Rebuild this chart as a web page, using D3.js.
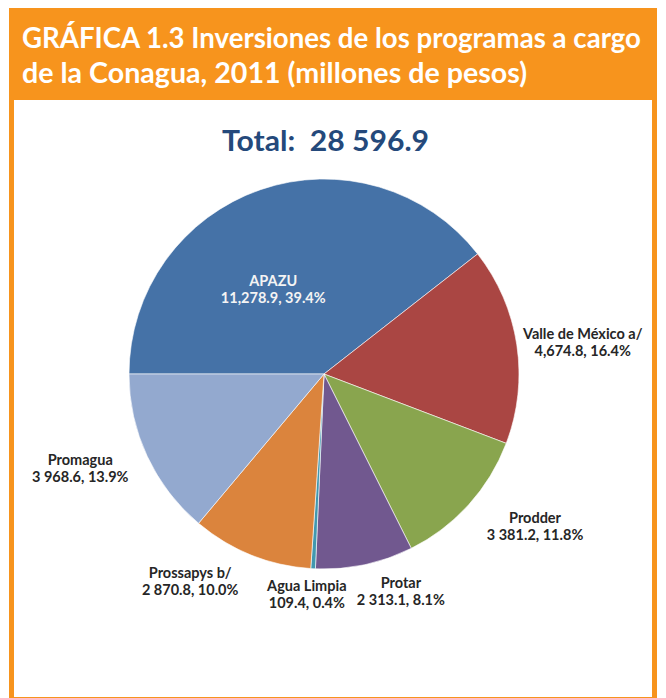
<!DOCTYPE html>
<html>
<head>
<meta charset="utf-8">
<script src="https://cdn.jsdelivr.net/npm/d3@7"></script>
<style>
  html, body { margin: 0; padding: 0; background: #fff; }
  text { font-family: Lato, "Open Sans", sans-serif; }
</style>
</head>
<body>
<div id="chart"></div>
<script>
document.addEventListener("DOMContentLoaded", function() {
    var programas = ["APAZU", "Valle de México a/", "Prodder", "Protar", "Agua Limpia", "Prossapys b/", "Promagua"];
    var inversiones = [11278.9, 4674.8, 3381.2, 2313.1, 109.4, 2870.8, 3968.6];
    var etiquetas = ["11,278.9, 39.4%", "4,674.8, 16.4%", "3 381.2, 11.8%", "2 313.1, 8.1%",
                     "109.4, 0.4%", "2 870.8, 10.0%", "3 968.6, 13.9%"];
    var colores = ["#4572a7", "#aa4643", "#89a54e", "#71588f", "#4198af", "#db843d", "#93a9cf"];
    var total = "28 596.9";

    // where each label sits, relative to the arc centroid
    var nudge = [[-19, 8], [8, 7], [23, -17], [24, -30], [-3, -32], [-39, -27], [-14, -12]];

    var W = 666, H = 698;
    var orange = "#f7941d";
    var cx = 324, cy = 374, r = 195;

    var svg = d3.select("#chart").append("svg")
        .attr("width", W)
        .attr("height", H);

    // frame
    svg.append("rect").attr("x", 9).attr("y", 8).attr("width", 648).attr("height", 692)
        .style("fill", orange);
    svg.append("rect").attr("x", 14).attr("y", 100).attr("width", 638).attr("height", 597)
        .style("fill", "#fff");

    // header
    var head = ["GRÁFICA 1.3 Inversiones de los programas a cargo",
                "de la Conagua, 2011 (millones de pesos)"];
    var headW = [619, 505];
    head.forEach(function(t, i) {
        svg.append("text")
            .attr("x", 22)
            .attr("y", 48 + i * 35)
            .attr("textLength", headW[i])
            .attr("lengthAdjust", "spacingAndGlyphs")
            .style("font-size", "28px")
            .style("font-weight", "bold")
            .style("fill", "#fff")
            .text(t);
    });

    svg.append("text")
        .attr("x", 222)
        .attr("y", 151)
        .attr("textLength", 207)
        .attr("lengthAdjust", "spacingAndGlyphs")
        .style("white-space", "pre")
        .style("font-size", "28px")
        .style("font-weight", "bold")
        .style("fill", "#24497b")
        .text("Total:  " + total);

    var pie = d3.pie().sort(null)
        .startAngle(-Math.PI / 2)
        .endAngle(Math.PI * 1.5);
    var arcs = pie(inversiones);

    var arc = d3.arc().innerRadius(0).outerRadius(r);
    var outerArc = d3.arc().innerRadius(r * 1.3).outerRadius(r * 1.3);
    var innerArc = d3.arc().innerRadius(r * 0.5).outerRadius(r * 0.5);

    var g = svg.append("g").attr("transform", "translate(" + cx + "," + cy + ")");

    g.selectAll("path").data(arcs).enter().append("path")
        .attr("d", arc)
        .style("fill", function(d, i) { return colores[i]; })
        .style("stroke", "#fff")
        .style("stroke-width", 0.6);

    var lab = g.selectAll("g.lab").data(arcs).enter().append("g")
        .attr("class", "lab")
        .attr("transform", function(d, i) {
            var c = (i === 0 ? innerArc : outerArc).centroid(d);
            return "translate(" + (c[0] + nudge[i][0]) + "," + (c[1] + nudge[i][1]) + ")";
        });

    lab.append("text")
        .attr("y", -4)
        .attr("text-anchor", "middle")
        .style("font-size", "14.5px")
        .style("font-weight", "bold")
        .style("fill", function(d, i) { return i === 0 ? "#f4f4f4" : "#262626"; })
        .text(function(d, i) { return programas[i]; });

    lab.append("text")
        .attr("y", 13)
        .attr("text-anchor", "middle")
        .style("font-size", "14.5px")
        .style("font-weight", "bold")
        .style("fill", function(d, i) { return i === 0 ? "#f4f4f4" : "#262626"; })
        .text(function(d, i) { return etiquetas[i]; });
})
</script>
</body>
</html>
